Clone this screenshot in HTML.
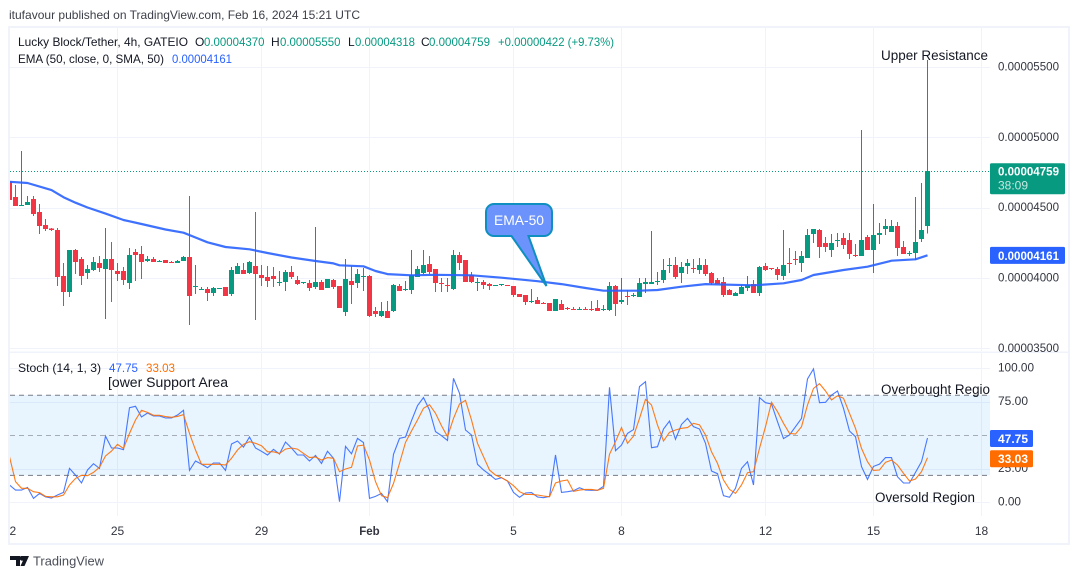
<!DOCTYPE html>
<html lang="en">
<head>
<meta charset="utf-8">
<title>Lucky Block/Tether 4h chart</title>
<style>
html,body{margin:0;padding:0;background:#fff;width:1080px;height:579px;overflow:hidden}
svg{display:block}
text{font-family:"Liberation Sans",sans-serif;font-size:12px;fill:#131722}
</style>
</head>
<body>
<svg id="chart" xmlns="http://www.w3.org/2000/svg" width="1080" height="579" viewBox="0 0 1080 579">
  <defs>
    <clipPath id="main-clip"><rect x="10" y="28" width="980" height="323"/></clipPath>
    <clipPath id="stoch-clip"><rect x="10" y="353" width="980" height="163"/></clipPath>
    <clipPath id="time-clip"><rect x="10" y="517" width="1058" height="26"/></clipPath>
  </defs>
  <rect x="0" y="0" width="1080" height="579" fill="#ffffff"/>
  <text x="9" y="19" font-size="12" textLength="351" lengthAdjust="spacingAndGlyphs" style="fill:#3c3f48">itufavour published on TradingView.com, Feb 16, 2024 15:21 UTC</text>
  <rect x="9" y="27" width="1060" height="517" fill="none" stroke="#f0f3fa" stroke-width="2"/>
  <rect x="10" y="351.5" width="1058" height="1.5" fill="#f0f3fa"/>
  <g id="grid"></g>
  <rect x="10" y="395" width="980" height="80.4" fill="#2196f3" fill-opacity="0.1"/>
  <line x1="10" x2="990" y1="395.2" y2="395.2" stroke="#787b86" stroke-dasharray="5 4"/>
  <line x1="10" x2="990" y1="435.5" y2="435.5" stroke="#787b86" stroke-opacity="0.6" stroke-dasharray="5 4"/>
  <line x1="10" x2="990" y1="475.4" y2="475.4" stroke="#787b86" stroke-dasharray="5 4"/>
  <line x1="10" x2="990" y1="171.5" y2="171.5" stroke="#089981" stroke-dasharray="1 2"/>
  <g id="candles" clip-path="url(#main-clip)"></g>
  <g id="ema" clip-path="url(#main-clip)"></g>
  <g id="stoch" clip-path="url(#stoch-clip)"></g>

  <g>
    <path d="M494 204H544a8 8 0 0 1 8 8V228a8 8 0 0 1-8 8H528.500L546.500 286L511.500 236H494a8 8 0 0 1-8-8V212a8 8 0 0 1 8-8Z" fill="#6b93fb" stroke="#0f8fbf" stroke-width="2"/>
    <text x="519" y="225" text-anchor="middle" font-size="14" style="fill:#fff;font-size:14px" textLength="50" lengthAdjust="spacingAndGlyphs">EMA-50</text>
  </g>

  <g id="price-axis"></g>
  <g id="stoch-axis"></g>
  <g id="time-axis" clip-path="url(#time-clip)"></g>

  <g>
    <text x="18" y="46" textLength="170" lengthAdjust="spacingAndGlyphs">Lucky Block/Tether, 4h, GATEIO</text>
    <text x="195" y="46">O</text>
    <text x="204" y="46" textLength="60.500" lengthAdjust="spacingAndGlyphs" style="fill:#089981">0.00004370</text>
    <text x="271" y="46">H</text>
    <text x="280" y="46" textLength="60.500" lengthAdjust="spacingAndGlyphs" style="fill:#089981">0.00005550</text>
    <text x="348" y="46">L</text>
    <text x="355" y="46" textLength="60" lengthAdjust="spacingAndGlyphs" style="fill:#089981">0.00004318</text>
    <text x="421" y="46">C</text>
    <text x="429" y="46" textLength="61" lengthAdjust="spacingAndGlyphs" style="fill:#089981">0.00004759</text>
    <text x="498" y="46" textLength="116" lengthAdjust="spacingAndGlyphs" style="fill:#089981">+0.00000422 (+9.73%)</text>
    <text x="18" y="63" textLength="146" lengthAdjust="spacingAndGlyphs">EMA (50, close, 0, SMA, 50)</text>
    <text x="172" y="63" textLength="60" lengthAdjust="spacingAndGlyphs" style="fill:#2962ff">0.00004161</text>
  </g>
  <g>
    <text x="18" y="372" textLength="83" lengthAdjust="spacingAndGlyphs">Stoch (14, 1, 3)</text>
    <text x="109" y="372" textLength="29" lengthAdjust="spacingAndGlyphs" style="fill:#2962ff">47.75</text>
    <text x="146" y="372" textLength="29" lengthAdjust="spacingAndGlyphs" style="fill:#ff6d00">33.03</text>
  </g>

  <text x="881" y="60" textLength="107" lengthAdjust="spacingAndGlyphs" style="font-size:13.500px">Upper Resistance</text>
  <text x="108" y="387" textLength="120" lengthAdjust="spacingAndGlyphs" style="font-size:13.500px">[ower Support Area</text>
  <text x="881" y="394" textLength="109" lengthAdjust="spacingAndGlyphs" style="font-size:13.500px">Overbought Regio</text>
  <text x="875" y="502" textLength="100" lengthAdjust="spacingAndGlyphs" style="font-size:13.500px">Oversold Region</text>

  <g>
    <path d="M10 556H20V566H16V560H10ZM21 556H29L24.500 566H20.500L23 560.500A2.200 2.200 0 0 1 21 556Z" fill="#131722"/>
    <text x="33" y="565.500" textLength="71" lengthAdjust="spacingAndGlyphs" style="font-size:13px;fill:#4a4e58">TradingView</text>
  </g>
</svg>
<script>
const priceTicks = [5500, 5000, 4500, 4000, 3500];
const stochTicks = [100, 75, 25, 0];
const timeLabels = ['22', '25', '29', 'Feb', '5', '8', '12', '15', '18'];
const timeIndexes = [0, 18, 42, 60, 84, 102, 126, 144, 162];

const opens = [
4685,4576,4512,4519,4562,4469,4377,4351,4341,4014,
3901,4199,4135,4036,4057,4107,4064,4135,4050,4050,
3965,4185,4171,4121,4135,4114,4128,4114,4107,4121,
4149,3936,3915,3922,3894,3922,3936,3886,4029,4057,
4036,4085,4021,4007,4014,3964,3971,4042,3985,3964,
3964,3936,3971,3929,3985,3943,3758,3978,3964,4007,
4014,3765,3730,3765,3765,3943,3914,3914,4007,4035,
4099,4064,3964,3950,3921,4163,4128,4021,3964,3971,
3957,3943,3950,3950,3943,3886,3879,3829,3843,3822,
3822,3765,3815,3786,3779,3772,3779,3779,3786,3772,
3772,3943,3831,3872,3872,3865,3957,3957,3971,3985,
4085,4092,4035,4085,4071,4057,4092,4035,3985,3971,
3914,3872,3886,3929,3957,3893,4085,4071,4064,4014,
4106,4135,4106,4142,4312,4341,4248,4199,4263,4284,
4270,4163,4156,4291,4199,4305,4348,4327,4369,4220,
4170,4177,4277,4370];
const highs = [
4685,4661,4903,4583,4583,4526,4419,4356,4356,4107,
4199,4206,4149,4093,4149,4157,4356,4256,4107,4078,
4213,4206,4228,4157,4149,4128,4128,4121,4128,4157,
4583,4093,3936,3936,3936,3929,3936,4078,4107,4107,
4121,4469,4093,4085,4078,4049,4057,4085,4014,3971,
3985,4362,3985,3993,3993,3943,4135,4085,4064,4071,
4021,3794,3829,3836,3957,3957,3978,4199,4085,4199,
4156,4064,4000,4000,4199,4184,4128,4042,4000,3985,
3964,3950,3957,3950,3943,3886,3879,3921,3865,3829,
3822,3850,3843,3794,3794,3794,3794,3836,3843,3808,
3971,3950,4000,3914,3893,4000,4000,4334,4042,4135,
4142,4149,4113,4135,4135,4142,4135,4042,4000,4007,
3921,3900,3950,4014,3985,4085,4106,4071,4078,4341,
4213,4191,4191,4348,4348,4348,4291,4312,4319,4319,
4319,4241,5051,4305,4526,4390,4419,4412,4398,4263,
4191,4575,4675,5550];
const lows = [
4555,4512,4512,4519,4441,4313,4334,4334,3943,3801,
3865,4029,3950,3993,4050,4043,3709,3830,3979,3950,
3922,3979,3993,4114,4114,4114,4107,4107,4107,4121,
3666,3886,3915,3837,3872,3922,3872,3872,4029,4029,
4029,3702,3943,3936,3936,3943,3907,3993,3950,3957,
3907,3921,3914,3929,3921,3786,3730,3815,3929,3907,
3722,3722,3722,3715,3758,3907,3907,3886,4007,4028,
4028,3900,3900,3900,3914,4057,3971,3964,3907,3921,
3914,3943,3943,3943,3865,3865,3808,3822,3815,3815,
3765,3765,3772,3772,3772,3772,3772,3765,3765,3765,
3765,3730,3815,3808,3865,3865,3893,3957,3950,3964,
4035,3993,3964,4028,4035,4028,4014,3950,3957,3865,
3879,3872,3886,3907,3893,3872,4049,4056,3985,3985,
4035,4092,4042,4142,4248,4142,4184,4149,4220,4206,
4135,4149,4156,4199,4035,4241,4305,4327,4156,4170,
4156,4128,4255,4318];
const closes = [
4555,4512,4519,4540,4455,4370,4348,4341,4007,3901,
4199,4114,4014,4064,4114,4071,4135,4057,4029,3986,
4164,4164,4114,4135,4114,4121,4107,4107,4121,4149,
3872,3943,3922,3894,3929,3929,3872,4057,4085,4029,
4114,4029,4000,3979,3993,3971,4042,4007,3957,3971,
3929,3971,3914,3993,3936,3786,3993,3950,4028,4014,
3730,3744,3765,3715,3950,3907,3921,4021,4064,4092,
4042,3964,3957,3943,4163,4106,3971,3971,3971,3950,
3943,3950,3957,3943,3879,3865,3829,3836,3815,3815,
3765,3850,3772,3779,3772,3779,3772,3772,3765,3779,
3943,3815,3843,3865,3879,3964,3971,3971,3978,4057,
4092,4007,4078,4106,4064,4092,4028,3964,3957,3879,
3879,3893,3936,3950,3893,4078,4056,4064,4021,4092,
4099,4128,4156,4305,4348,4220,4220,4248,4270,4234,
4170,4156,4270,4199,4305,4319,4369,4369,4213,4170,
4177,4255,4341,4759];

const emaCandles = [0,3,7,9,11,13,16,19,22,26,29,31,33,36,40,43,47,51,54,55,59,61,63,67,71,77,82,88,92,96,99,105,108,112,116,124,129,132,134,139,143,147,151,152,153];
const emaValues = [4684,4675,4625,4574,4535,4501,4458,4412,4384,4345,4322,4288,4254,4220,4204,4178,4146,4121,4104,4090,4083,4050,4028,4019,4023,4019,4002,3977,3957,3929,3910,3910,3915,3938,3957,3948,3962,3986,4021,4057,4080,4123,4133,4147,4161];

const stochK = [
12.7,8.9,8.9,10.9,2.7,6.4,3.9,3.0,5.2,7.2,
25.1,20.1,14.2,23.9,28.6,25.1,49.2,40.3,40.3,39.0,
70.4,71.4,63.4,66.4,64.2,64.2,62.7,62.7,64.9,68.4,
23.6,30.6,28.3,25.6,29.1,29.1,23.6,43.3,45.5,41.0,
48.5,40.3,37.8,35.1,39.3,35.8,44.8,40.3,35.1,35.1,
30.6,34.8,28.8,37.8,32.6,0.2,41.5,36.0,47.5,44.3,
2.7,4.2,6.4,0.2,35.6,47.5,48.5,60.7,71.9,77.9,
68.6,52.5,49.5,46.0,92.3,81.1,53.7,50.0,28.1,23.9,
20.6,16.9,18.1,15.7,7.2,3.5,6.7,7.0,3.7,3.2,
4.2,35.1,7.2,7.7,8.4,10.7,8.9,8.7,8.7,11.7,
85.6,38.3,42.5,51.2,54.0,86.1,89.8,40.5,41.3,54.5,
60.4,46.8,57.9,62.4,56.2,54.5,43.8,23.1,21.1,4.7,
3.5,10.2,25.1,30.1,12.7,77.9,74.1,73.1,59.9,47.3,
50.0,56.2,62.4,91.8,99.3,74.1,74.4,79.8,82.8,69.9,
53.0,48.7,26.4,16.9,26.6,28.3,33.1,33.1,18.9,14.2,
14.2,22.1,30.1,47.75];
const stochD = [
33.8,15.2,10.2,10.2,7.7,7.0,4.2,3.9,3.9,5.2,
12.7,17.6,19.9,19.6,22.1,25.9,34.3,38.0,43.0,40.0,
51.2,61.2,68.4,66.9,64.7,64.7,63.7,63.2,63.9,65.2,
51.2,38.8,28.1,28.1,28.1,28.1,27.6,32.6,38.8,43.0,
45.0,43.8,42.0,37.5,37.5,36.3,39.5,40.3,39.5,36.3,
33.1,33.6,31.3,33.1,32.6,22.6,24.6,25.9,41.8,42.5,
31.3,15.2,4.7,3.2,13.9,28.8,44.5,53.0,61.2,69.9,
72.6,66.2,56.9,48.7,62.4,73.1,75.9,61.2,43.8,33.8,
23.9,20.1,18.1,15.7,12.2,7.7,5.7,5.7,5.2,4.5,
3.9,14.2,15.7,16.4,7.9,8.9,9.4,9.4,8.7,10.2,
35.6,45.0,55.5,43.8,49.2,62.4,76.6,72.4,57.4,45.5,
52.0,53.7,55.0,55.5,58.7,57.5,50.0,37.5,28.8,16.4,
9.4,6.4,12.7,21.9,22.6,40.0,56.2,74.4,67.4,58.7,
51.2,50.7,56.2,72.4,84.8,88.3,82.8,76.1,79.3,77.4,
66.2,55.0,40.0,30.1,23.6,23.9,29.6,31.3,27.6,21.4,
15.7,17.2,22.6,33.03];

const NS = 'http://www.w3.org/2000/svg';
function candleX(i) { return 9.5 + 6 * i; }
function priceY(p) { return 278 - (p - 4000) * 0.1407; }
function stochY(v) { return 502 - v * 1.34; }
function formatPrice(p) { return (p * 1e-8).toFixed(8); }
function shape(parent, tag, attrs) {
  const el = document.createElementNS(NS, tag);
  for (const k in attrs) el.setAttribute(k, attrs[k]);
  parent.appendChild(el);
  return el;
}

const grid = document.getElementById('grid');
timeIndexes.forEach(function (idx) {
  if (idx === 0) return;
  const x = Math.round(candleX(idx) - 0.5) + 0.5;
  const vMain = shape(grid, 'line', {x1: x, x2: x, y1: 28, y2: 351, stroke: '#f0f3fa'});
  
  
  const vStoch = shape(grid, 'line', {x1: x, x2: x, y1: 353, y2: 516, stroke: '#f0f3fa'});
  
  
});
priceTicks.forEach(function (p) {
  const y = Math.round(priceY(p)) + 0.5;
  const h = shape(grid, 'line', {x1: 10, x2: 990, y1: y, y2: y, stroke: '#f0f3fa'});
  
  
});
stochTicks.forEach(function (v) {
  const y = Math.round(stochY(v)) + 0.5;
  const h = shape(grid, 'line', {x1: 10, x2: 990, y1: y, y2: y, stroke: '#f0f3fa'});
  
  
});

const candleGroup = document.getElementById('candles');
opens.forEach(function (o, i) {
  const c = closes[i];
  const color = c >= o ? '#089981' : '#f23645';
  const x = candleX(i);
  const hiY = priceY(highs[i]);
  const loY = priceY(lows[i]);
  const topY = priceY(Math.max(o, c));
  const botY = priceY(Math.min(o, c));
  const wick = shape(candleGroup, 'rect', {x: x - 0.5, y: hiY, width: 1, height: Math.max(loY - hiY, 1), fill: color, 'shape-rendering': 'crispEdges'});
  
  
  const body = shape(candleGroup, 'rect', {x: x - 2.5, y: topY, width: 5, height: Math.max(botY - topY, 1), fill: color, 'shape-rendering': 'crispEdges'});
  
  
});

const emaPoints = emaCandles.map(function (idx, k) {
  return candleX(idx).toFixed(1) + ',' + priceY(emaValues[k]).toFixed(1);
}).join(' ');
const emaLine = shape(document.getElementById('ema'), 'polyline', {points: emaPoints, fill: 'none', stroke: '#2962ff', 'stroke-width': 2.2, 'stroke-linejoin': 'round', 'stroke-opacity': 0.9});



const stochGroup = document.getElementById('stoch');
function seriesPoints(values) {
  return values.map(function (v, i) { return candleX(i).toFixed(1) + ',' + stochY(v).toFixed(1); }).join(' ');
}
const kLine = shape(stochGroup, 'polyline', {points: seriesPoints(stochK), fill: 'none', stroke: '#2962ff', 'stroke-width': 1.1, 'stroke-opacity': 0.85});


const dLine = shape(stochGroup, 'polyline', {points: seriesPoints(stochD), fill: 'none', stroke: '#ff6d00', 'stroke-width': 1.1, 'stroke-opacity': 0.9});



const priceAxis = document.getElementById('price-axis');
priceTicks.forEach(function (p) {
  const t = shape(priceAxis, 'text', {x: 998, y: priceY(p) + 3.5, textLength: 61, lengthAdjust: 'spacingAndGlyphs', style: 'fill:#333640'});
  t.textContent = formatPrice(p);
  
  
});
const lastClose = closes[closes.length - 1];
const lastBox = shape(priceAxis, 'rect', {x: 990, y: priceY(lastClose) - 8, width: 75, height: 31, rx: 1.5, fill: '#089981'});


const lastText = shape(priceAxis, 'text', {x: 998, y: priceY(lastClose) + 4.5, textLength: 61, lengthAdjust: 'spacingAndGlyphs', style: 'fill:#fff;font-weight:bold'});
lastText.textContent = formatPrice(lastClose);


const countdown = shape(priceAxis, 'text', {x: 998, y: priceY(lastClose) + 18.5, textLength: 30, lengthAdjust: 'spacingAndGlyphs', style: 'fill:#c4e8e0'});
countdown.textContent = '38:09';


const lastEma = emaValues[emaValues.length - 1];
const emaBox = shape(priceAxis, 'rect', {x: 990, y: priceY(lastEma) - 8.5, width: 75, height: 17, rx: 1.5, fill: '#2962ff'});


const emaText = shape(priceAxis, 'text', {x: 998, y: priceY(lastEma) + 4.5, textLength: 61, lengthAdjust: 'spacingAndGlyphs', style: 'fill:#fff;font-weight:bold'});
emaText.textContent = formatPrice(lastEma);



const stochAxis = document.getElementById('stoch-axis');
stochTicks.forEach(function (v) {
  const t = shape(stochAxis, 'text', {x: 998, y: stochY(v) + 3.5, textLength: v === 100 ? 36 : (v === 0 ? 23 : 30), lengthAdjust: 'spacingAndGlyphs', style: 'fill:#333640'});
  t.textContent = v.toFixed(2);
  
  
});
const kLast = stochK[stochK.length - 1];
const dLast = stochD[stochD.length - 1];
const kBox = shape(stochAxis, 'rect', {x: 990, y: stochY(kLast) - 8, width: 43, height: 17, rx: 1.5, fill: '#2962ff'});


const kText = shape(stochAxis, 'text', {x: 998, y: stochY(kLast) + 5, textLength: 30, lengthAdjust: 'spacingAndGlyphs', style: 'fill:#fff;font-weight:bold'});
kText.textContent = kLast.toFixed(2);


const dBox = shape(stochAxis, 'rect', {x: 990, y: stochY(dLast) - 7.5, width: 43, height: 17, rx: 1.5, fill: '#ff6d00'});


const dText = shape(stochAxis, 'text', {x: 998, y: stochY(dLast) + 5.5, textLength: 30, lengthAdjust: 'spacingAndGlyphs', style: 'fill:#fff;font-weight:bold'});
dText.textContent = dLast.toFixed(2);



const timeAxis = document.getElementById('time-axis');
timeLabels.forEach(function (label, k) {
  const t = shape(timeAxis, 'text', {x: candleX(timeIndexes[k]), y: 535, 'text-anchor': 'middle', style: 'fill:#333640' + (label === 'Feb' ? ';font-weight:bold;font-size:11.5px' : '')});
  t.textContent = label;
  
  
});
</script>
</body>
</html>
